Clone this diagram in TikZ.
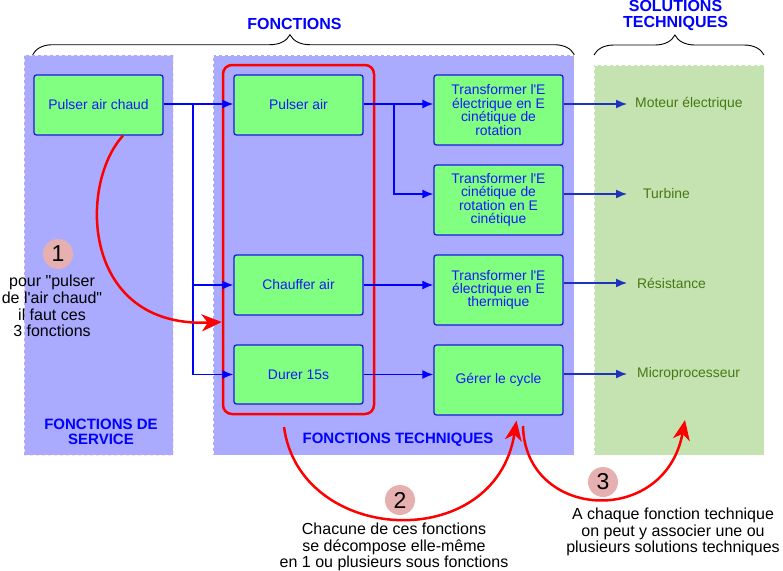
\documentclass[tikz,border=0pt]{standalone}
\usepackage{fontspec}
\setmainfont{Liberation Sans}[Ligatures=TeXOff]
\usetikzlibrary{arrows.meta,decorations.pathreplacing,calc}
\definecolor{panelblue}{RGB}{170,170,255}
\definecolor{panelgreen}{RGB}{197,227,176}
\definecolor{boxgreen}{RGB}{128,255,128}
\definecolor{boxblue}{RGB}{25,25,235}
\definecolor{txtblue}{RGB}{25,25,250}
\definecolor{hdrblue}{RGB}{0,0,255}
\definecolor{solgreen}{RGB}{70,120,20}
\definecolor{solarrow}{RGB}{30,50,190}
\definecolor{badgecol}{RGB}{230,176,176}
\definecolor{pinkline}{RGB}{250,228,236}
\begin{document}
\begin{tikzpicture}[x=1pt,y=-1pt,
  panel/.style={fill=panelblue, draw=white, dashed, line width=0.6pt, inner sep=0pt},
  gpanel/.style={fill=panelgreen, draw=white, dashed, line width=0.6pt, inner sep=0pt},
  fbox/.style={draw=boxblue, line width=1.3pt, fill=boxgreen, rounded corners=2.5pt,
    minimum width=129pt, align=center, text=txtblue, inner sep=0pt,
    font=\fontsize{13.9}{13.4}\selectfont},
  conn/.style={draw=hdrblue, line width=1.5pt, -{Latex[length=11pt,width=9pt]}},
  solconn/.style={draw=solarrow, line width=1.5pt, -{Latex[length=11pt,width=9pt]}},
  sol/.style={text=solgreen, anchor=west, inner ysep=2pt, font=\fontsize{13.9}{14}\selectfont},
  hdr/.style={text=hdrblue, align=center, font=\bfseries\fontsize{16}{16}\selectfont},
  plabel/.style={text=hdrblue, align=center, font=\bfseries\fontsize{15}{14.5}\selectfont},
  redarr/.style={draw=red, line width=2.5pt, -{Stealth[length=20pt,width=17pt,inset=6pt]}},
  badge/.style={circle, fill=badgecol, minimum size=30pt, inner sep=0pt, font=\fontsize{23}{23}\selectfont},
  ann/.style={align=center, font=\fontsize{16}{16.8}\selectfont},
  bracestyle/.style={draw=black, line width=0.9pt, decorate}
]
\useasboundingbox (0,0) rectangle (783,570);

% panels
\node[panel, draw=pinkline, minimum width=149pt, minimum height=400pt] (ps) at (98.5,255) {};
\node[panel, minimum width=361pt, minimum height=400pt] (pt) at (393.5,255) {};
\node[gpanel, minimum width=170pt, minimum height=390pt] (pg) at (679,260) {};

% braces and headers
\draw[bracestyle, decoration={brace, amplitude=20pt, aspect=0.475}] (ps.north west) ++(9,0) coordinate (b1s) -- (pt.north east);
\draw[bracestyle, decoration={brace, amplitude=20pt, aspect=0.476}] (594,55) coordinate (b2s) -- (764,55) coordinate (b2e);
\node[hdr] (hf) at (294.5,24) {FONCTIONS};
\node[hdr] (hs) at (675.5,15.5) {SOLUTIONS\\TECHNIQUES};

% panel labels
\node[plabel] (lps) at (101,432) {FONCTIONS DE\\SERVICE};
\node[plabel] (lpt) at (398,440) {FONCTIONS TECHNIQUES};

% red group
\node[draw=red, line width=2.5pt, rounded corners=9pt, minimum width=151pt, minimum height=349pt, inner sep=0pt] (grp) at (298.5,239.5) {};

% boxes
\node[fbox, minimum height=60pt] (pac) at (98.5,105) {Pulser air chaud};
\node[fbox, minimum height=60pt] (pa) at (298.5,105) {Pulser air};
\node[fbox, minimum height=60pt] (ca) at (298.5,285) {Chauffer air};
\node[fbox, minimum height=59pt] (du) at (298.5,374.5) {Durer 15s};
\node[fbox, minimum height=70pt] (t1) at (498.5,110) {Transformer l'E\\électrique en E\\cinétique de\\rotation};
\node[fbox, minimum height=70pt] (t2) at (498.5,200) {Transformer l'E\\cinétique de\\rotation en E\\cinétique};
\node[fbox, minimum height=70pt] (t3) at (498.5,290) {Transformer l'E\\électrique en E\\thermique};
\node[fbox, minimum height=70pt] (gc) at (498.5,380) {Gérer le cycle};

% solutions
\node[sol, inner xsep=8pt] (s1) at (627,104) {Moteur électrique};
\node[sol, inner xsep=16pt] (s2) at (627,194) {Turbine};
\node[sol, inner xsep=10pt] (s3) at (627,283) {Résistance};
\node[sol, inner xsep=10pt] (s4) at (627,374) {Microprocesseur};

% blue connectors
\coordinate (j1) at (193,104);
\coordinate (j2) at (394,104);
\draw[conn] (pac.east |- j1) -- (pa.west |- j1);
\draw[conn] (j1) |- (ca.west);
\draw[conn] (j1) |- (du.west);
\draw[conn] (pa.east |- j2) -- (t1.west |- j2);
\draw[conn] (j2) |- (t2.west |- 0,194);
\draw[conn] (ca.east) -- (t3.west |- ca.east);
\draw[conn] (du.east) -- (gc.west |- du.east);

\draw[solconn] (t1.east |- s1.west) -- (s1.west);
\draw[solconn] (t2.east |- s2.west) -- (s2.west);
\draw[solconn] (t3.east |- s3.west) -- (s3.west);
\draw[solconn] (gc.east |- s4.west) -- (s4.west);

% red curves
\coordinate (c1s) at ($(pac.south)+(24.5,0)$);
\coordinate (c1e) at (grp.west |- 0,322);
\draw[redarr] (c1s) .. controls (78,185) and (82,328) .. (c1e);
\coordinate (c2s) at (284,427);
\coordinate (c2e) at ($(gc.south)+(18,5)$);
\draw[redarr] (c2s) .. controls (300,545) and (495,555) .. (c2e);
\coordinate (c3s) at (523,426);
\coordinate (c3e) at (685,420);
\draw[redarr] (c3s) .. controls (525,520) and (665,528) .. (c3e);

% badges and notes
\node[badge] (bd1) at (58,254) {1};
\node[badge] (bd2) at (400,500) {2};
\node[badge] (bd3) at (603,482) {3};
\node[ann] (n1) at (52,306) {pour "pulser\\de l'air chaud"\\il faut ces\\3 fonctions};
\node[ann] (n2) at (394,547) {Chacune de ces fonctions\\se décompose elle-même\\en 1 ou plusieurs sous fonctions};
\node[ann] (n3) at (673,532) {A chaque fonction technique\\on peut y associer une ou\\plusieurs solutions techniques};
\end{tikzpicture}
\end{document}
